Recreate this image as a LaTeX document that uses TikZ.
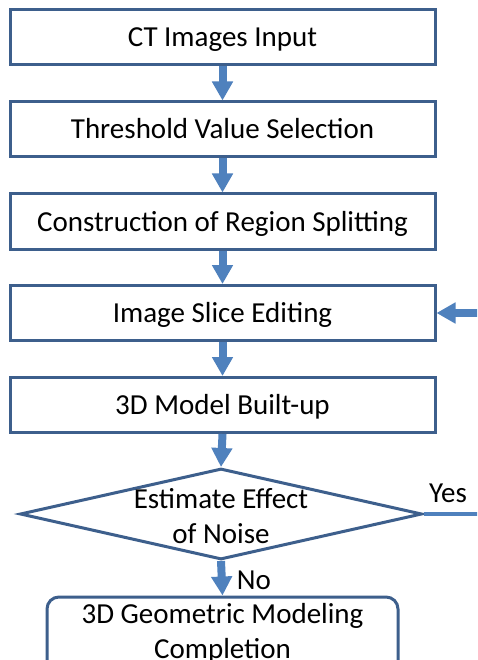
\documentclass[tikz,border=0pt]{standalone}
\usepackage{fontspec}
\setmainfont{Carlito}
\usetikzlibrary{shapes.geometric,arrows.meta}
\definecolor{edgeblue}{HTML}{3D5F8C}
\definecolor{arrowblue}{HTML}{4F81BD}
\begin{document}
\begin{tikzpicture}[x=1pt,y=-1pt,
  txt/.style={font=\fontsize{29}{35}\selectfont, align=center, inner sep=0pt},
  stepbox/.style={font=\fontsize{29}{35}\selectfont, inner sep=0pt, text height=19pt, text depth=0pt, draw=edgeblue, line width=3pt, minimum width=425pt, minimum height=55pt, fill=white},
  decbox/.style={shape=diamond, draw=edgeblue, line width=3pt, minimum width=402pt, minimum height=91pt, inner sep=0pt},
  endbox/.style={draw=edgeblue, line width=3pt, rounded corners=12pt, minimum width=351pt, minimum height=90pt, inner sep=0pt},
  flow/.style={draw=arrowblue, line width=8pt, -{Triangle[width=20pt,length=19pt]}},
  plainline/.style={draw=arrowblue, line width=3.5pt}]
\clip (0,0) rectangle (477,660);
\useasboundingbox (0,0) rectangle (477,660);
\fill[white] (0,0) rectangle (477,660);
\node[stepbox] (b1) at (222.5,37.5) {CT Images Input};
\node[stepbox] (b2) at (222.5,129.5) {Threshold Value Selection};
\node[stepbox] (b3) at (222.5,221.5) {Construction of Region Splitting};
\node[stepbox] (b4) at (222.5,313) {Image Slice Editing};
\node[stepbox] (b5) at (222.5,405) {3D Model Built-up};
\node[decbox] (d) at (221,514) {};
\node[txt] (dt) at (221,516) {Estimate Effect\\of Noise};
\node[endbox] (e) at (222.5,642) {};
\node[txt] (et) at (222.5,633) {3D Geometric Modeling\\Completion};
\node[txt] (yes) at (448,493) {Yes};
\node[txt] (no) at (254,580) {No};
\coordinate (rin) at (480,313);
\coordinate (rout) at (480,514);
\draw[flow] (b1.south) -- (b2.north);
\draw[flow] (b2.south) -- (b3.north);
\draw[flow] (b3.south) -- (b4.north);
\draw[flow] (b4.south) -- (b5.north);
\draw[flow] (b5.south) -- (d.north);
\draw[flow] (d.south) -- (e.north);
\draw[flow] (rin) -- (b4.east);
\draw[plainline] (d.east) -- (rout);
\end{tikzpicture}
\end{document}
